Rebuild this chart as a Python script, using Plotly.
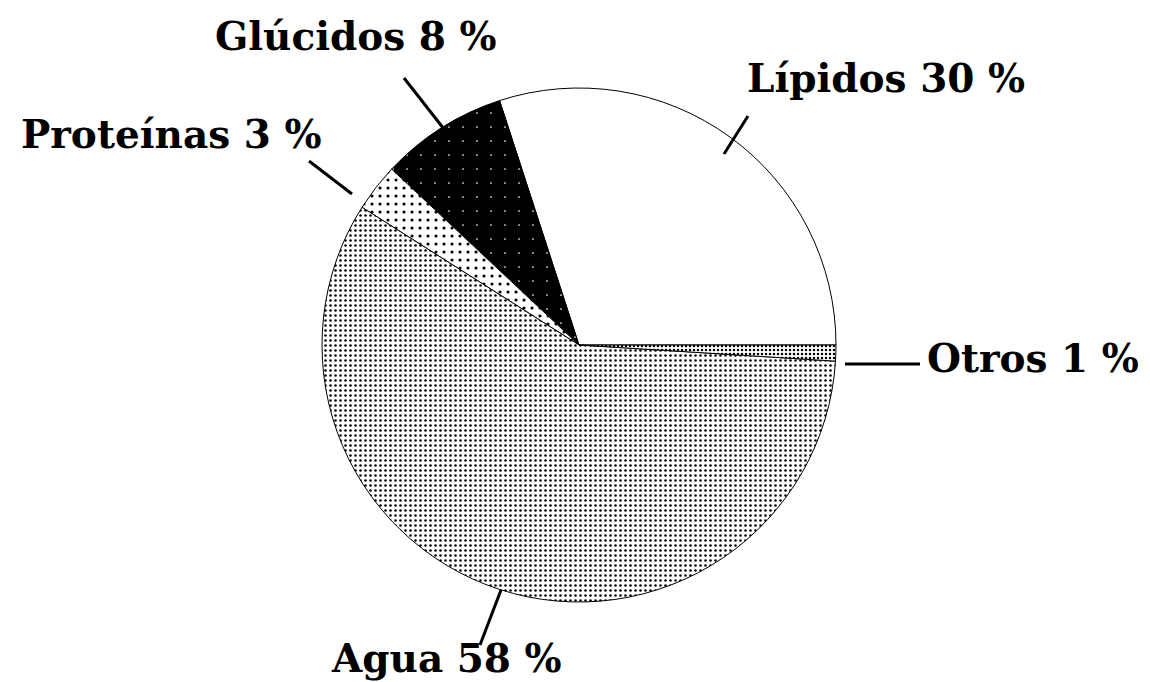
import plotly.graph_objects as go

# Composition data (percent)
labels = ["Lípidos", "Glúcidos", "Proteínas", "Agua", "Otros"]
values = [30, 8, 3, 58, 1]
label_text = ["Lípidos 30 %", "Glúcidos 8 %", "Proteínas 3 %", "Agua 58 %", "Otros 1 %"]

W, H = 1150, 682


def px(x, y):
    # pixel -> paper coords
    return x / W, 1 - y / H


# fill textures per slice
bg = ["white", "black", "white", "white", "white"]
fg = ["white", "white", "black", "black", "black"]
shapes_pat = ["", ".", ".", ".", "."]
sizes = [8, 14, 8, 5, 4]
solid = [0.1, 0.012, 0.12, 0.2, 0.3]

pie = go.Pie(
    labels=labels,
    values=values,
    sort=False,
    direction="counterclockwise",
    rotation=-18,
    textinfo="none",
    hoverinfo="label+percent",
    showlegend=False,
    marker=dict(
        colors=bg,
        line=dict(color="black", width=1),
        pattern=dict(shape=shapes_pat, fgcolor=fg, bgcolor=bg,
                     size=sizes, solidity=solid, fillmode="replace"),
    ),
    domain=dict(x=[313 / W, 829 / W], y=[1 - 594 / H, 1 - 80 / H]),
)

fig = go.Figure(pie)

# label text anchors (pixels) and leader lines
text_pos = [(878, 70, "center"), (348, 28, "center"), (163, 126, "center"),
            (438, 650, "center"), (1133, 350, "right")]
leaders = [
    [(740, 108), (716, 146)],
    [(396, 70), (443, 130)],
    [(301, 153), (344, 186)],
    [(493, 582), (472, 637)],
    [(837, 356), (912, 356)],
]

fnt = dict(family="DejaVu Serif", size=39, color="black")
for t, (x, y, anc) in zip(label_text, text_pos):
    ax, ay = px(x, y)
    fig.add_annotation(x=ax, y=ay, xref="paper", yref="paper", text=f"<b>{t}</b>",
                       showarrow=False, font=fnt, xanchor=anc, yanchor="middle")

for (x0, y0), (x1, y1) in leaders:
    a0, b0 = px(x0, y0)
    a1, b1 = px(x1, y1)
    fig.add_shape(type="line", xref="paper", yref="paper", x0=a0, y0=b0, x1=a1, y1=b1,
                  line=dict(color="black", width=3))

fig.update_layout(
    width=W, height=H,
    margin=dict(l=0, r=0, t=0, b=0),
    paper_bgcolor="white",
    plot_bgcolor="white",
)

fig.write_html("out.html")
